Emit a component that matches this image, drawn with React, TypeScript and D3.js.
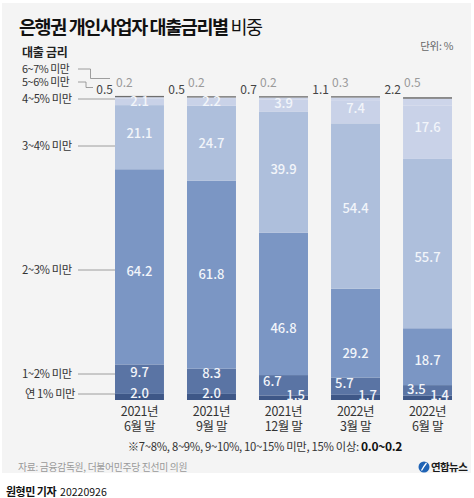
import React from "react";
import * as d3 from "d3";

// ---- data ----
const categories = ["2021년|6월 말", "2021년|9월 말", "2021년|12월 말", "2022년|3월 말", "2022년|6월 말"];
const seriesKeys = ["lt1", "r1_2", "r2_3", "r3_4", "r4_5", "r5_6", "r6_7"];
const seriesNames = ["연 1% 미만", "1~2% 미만", "2~3% 미만", "3~4% 미만", "4~5% 미만", "5~6% 미만", "6~7% 미만"];
const lt1 = [2.0, 2.0, 1.5, 1.7, 1.4];
const r1_2 = [9.7, 8.3, 6.7, 5.7, 3.5];
const r2_3 = [64.2, 61.8, 46.8, 29.2, 18.7];
const r3_4 = [21.1, 24.7, 39.9, 54.4, 55.7];
const r4_5 = [2.1, 2.2, 3.9, 7.4, 17.6];
const r5_6 = [0.5, 0.5, 0.7, 1.1, 2.2];
const r6_7 = [0.2, 0.2, 0.2, 0.3, 0.5];

// ---- layout / style ----
const W = 474;
const H = 498;
const FONT = "'Noto Sans CJK KR', 'Noto Sans', sans-serif";
const colors: Record<string, string> = {
  lt1: "#3e5787",
  r1_2: "#5a74a4",
  r2_3: "#7b96c4",
  r3_4: "#aebfdc",
  r4_5: "#c9d2e8",
  r5_6: "#cdd5ea",
  r6_7: "#6e6e6e",
};
// label vertical nudges relative to segment centres (layout only)
const labelDy: Record<string, number[]> = {
  lt1: [0, 0, 0, 0, 0],
  r1_2: [-7, -8, -4, -3, -1],
  r2_3: [4, 0, 24, 20, 4],
  r3_4: [-4, 0, -3, 2, 14],
  r4_5: [-1, -1, -2, -4, -5],
};
const legendY = [394, 374, 270, 146, 99];

export default function App() {
  const rows = categories.map((c, i) => ({
    cat: c,
    lt1: lt1[i],
    r1_2: r1_2[i],
    r2_3: r2_3[i],
    r3_4: r3_4[i],
    r4_5: r4_5[i],
    r5_6: r5_6[i],
    r6_7: r6_7[i],
  }));
  const stack = d3.stack<any>().keys(seriesKeys)(rows);
  const x = d3.scaleBand<string>().domain(categories).range([115, 452]).paddingInner(0.32).paddingOuter(0);
  const y = d3.scaleLinear().domain([0, 100]).range([400, 96]);
  const bw = x.bandwidth();

  const insideLabels: React.ReactNode[] = [];
  stack.forEach((layer, k) => {
    const key = seriesKeys[k];
    if (key === "r5_6" || key === "r6_7") return;
    layer.forEach((d, i) => {
      const bx = x(categories[i])!;
      const cy = (y(d[0]) + y(d[1])) / 2;
      let tx = bx + bw / 2;
      let ty = cy + labelDy[key][i];
      let anchor: "middle" | "start" | "end" = "middle";
      if (key === "lt1") {
        ty = y(0) - 7;
        if (i >= 2) {
          tx = bx + bw - 3;
          anchor = "end";
          ty = y(0) - 5;
        }
      }
      if (key === "r1_2" && i >= 2) {
        tx = bx + 4;
        anchor = "start";
      }
      insideLabels.push(
        <text
          key={key + i}
          x={tx}
          y={ty}
          dy="0.36em"
          textAnchor={anchor}
          fontSize={13}
          fontWeight={500}
          fill="#f2f5fa"
        >
          {(d[1] - d[0]).toFixed(1)}
        </text>
      );
    });
  });

  return (
    <div style={{ position: "absolute", left: 0, top: 0 }}>
      <svg width={W} height={H} fontFamily={FONT} style={{ display: "block" }}>
        <rect x={0} y={0} width={W} height={H} fill="#ffffff" />
        <rect x={2} y={3} width={469} height={470} fill="#f4f4f4" />

        <text x={19} y={34} fontSize={18.5} fontWeight={700} fill="#111" letterSpacing={-1.4}>
          은행권 개인사업자 대출금리별<tspan fontWeight={400}> 비중</tspan>
        </text>
        <text x={22} y={57} fontSize={12} fontWeight={700} fill="#222" letterSpacing={-0.3}>
          대출 금리
        </text>
        <text x={453} y={50} fontSize={10.5} fill="#666" textAnchor="end" letterSpacing={-0.3}>
          단위: %
        </text>

        {/* legend labels */}
        <g fontSize={11.3} fill="#333" letterSpacing={-0.4}>
          <text x={22} y={69} dy="0.35em" fontSize={10.8}>{seriesNames[6]}</text>
          <text x={22} y={82} dy="0.35em" fontSize={10.8}>{seriesNames[5]}</text>
          {legendY.map((ly, k) => (
            <text key={k} x={k === 0 ? 25 : 22} y={ly} dy="0.35em">
              {seriesNames[k]}
            </text>
          ))}
        </g>
        <g stroke="#888" strokeWidth={0.8} fill="none">
          <polyline points="78,69 90.5,69 90.5,78.5 110,78.5" />
          <polyline points="78,82 86,82 86,87.5 93,87.5" />
          {legendY.map((ly, k) => (
            <line key={k} x1={78} x2={115} y1={ly} y2={ly} />
          ))}
        </g>

        {/* bars */}
        {stack.map((layer, k) => (
          <g key={seriesKeys[k]} fill={colors[seriesKeys[k]]}>
            {layer.map((d, i) => {
              const h = y(d[0]) - y(d[1]);
              const minH = seriesKeys[k] === "r6_7" ? 1.3 : 0;
              const hh = Math.max(h, minH);
              return <rect key={i} x={x(categories[i])} y={y(d[0]) - hh} width={bw} height={hh} />;
            })}
          </g>
        ))}

        {insideLabels}

        {/* top outside labels */}
        {categories.map((c, i) => {
          const bx = x(c)!;
          return (
            <g key={c} fontSize={12}>
              <text x={bx - 2} y={90} dy="0.35em" textAnchor="end" fill="#444">
                {r5_6[i].toFixed(1)}
              </text>
              <text x={bx + 1} y={83} dy="0.35em" fill="#9a9a9a">
                {r6_7[i].toFixed(1)}
              </text>
            </g>
          );
        })}

        {/* x axis labels */}
        {categories.map((c) => {
          const [a, b] = c.split("|");
          const cx = x(c)! + bw / 2;
          return (
            <text key={c} x={cx} y={411} dy="0.36em" fontSize={12.5} fill="#333" textAnchor="middle" letterSpacing={-0.4}>
              <tspan x={cx}>{a}</tspan>
              <tspan x={cx} dy={15.5}>{b}</tspan>
            </text>
          );
        })}

        <text x={265} y={447} dy="0.36em" fontSize={11.3} textAnchor="middle" fill="#333" letterSpacing={-0.3}>
          ※7~8%, 8~9%, 9~10%, 10~15% 미만, 15% 이상: <tspan fontWeight={700} fill="#111" fontSize={12}>0.0~0.2</tspan>
        </text>
        <text x={18} y={467} dy="0.36em" fontSize={9.8} fill="#999" letterSpacing={-0.3}>
          자료: 금융감독원, 더불어민주당 진선미 의원
        </text>

        {/* logo */}
        <g>
          <circle cx={424} cy={467} r={5.5} fill="#1f63b5" />
          <path d="M421.5,470.5 Q424,466 426.5,463" stroke="#fff" strokeWidth={1.3} fill="none" />
          <text x={431} y={467} dy="0.36em" fontSize={10.5} fontWeight={700} fill="#1a1a1a" letterSpacing={-0.6}>
            연합뉴스
          </text>
        </g>

        <text x={6} y={492} dy="0.36em" fontSize={11} fill="#111">
          <tspan fontWeight={700} letterSpacing={-0.5}>원형민 기자</tspan>
          <tspan dx={4} fontSize={10.5}>20220926</tspan>
        </text>
      </svg>
    </div>
  );
}
